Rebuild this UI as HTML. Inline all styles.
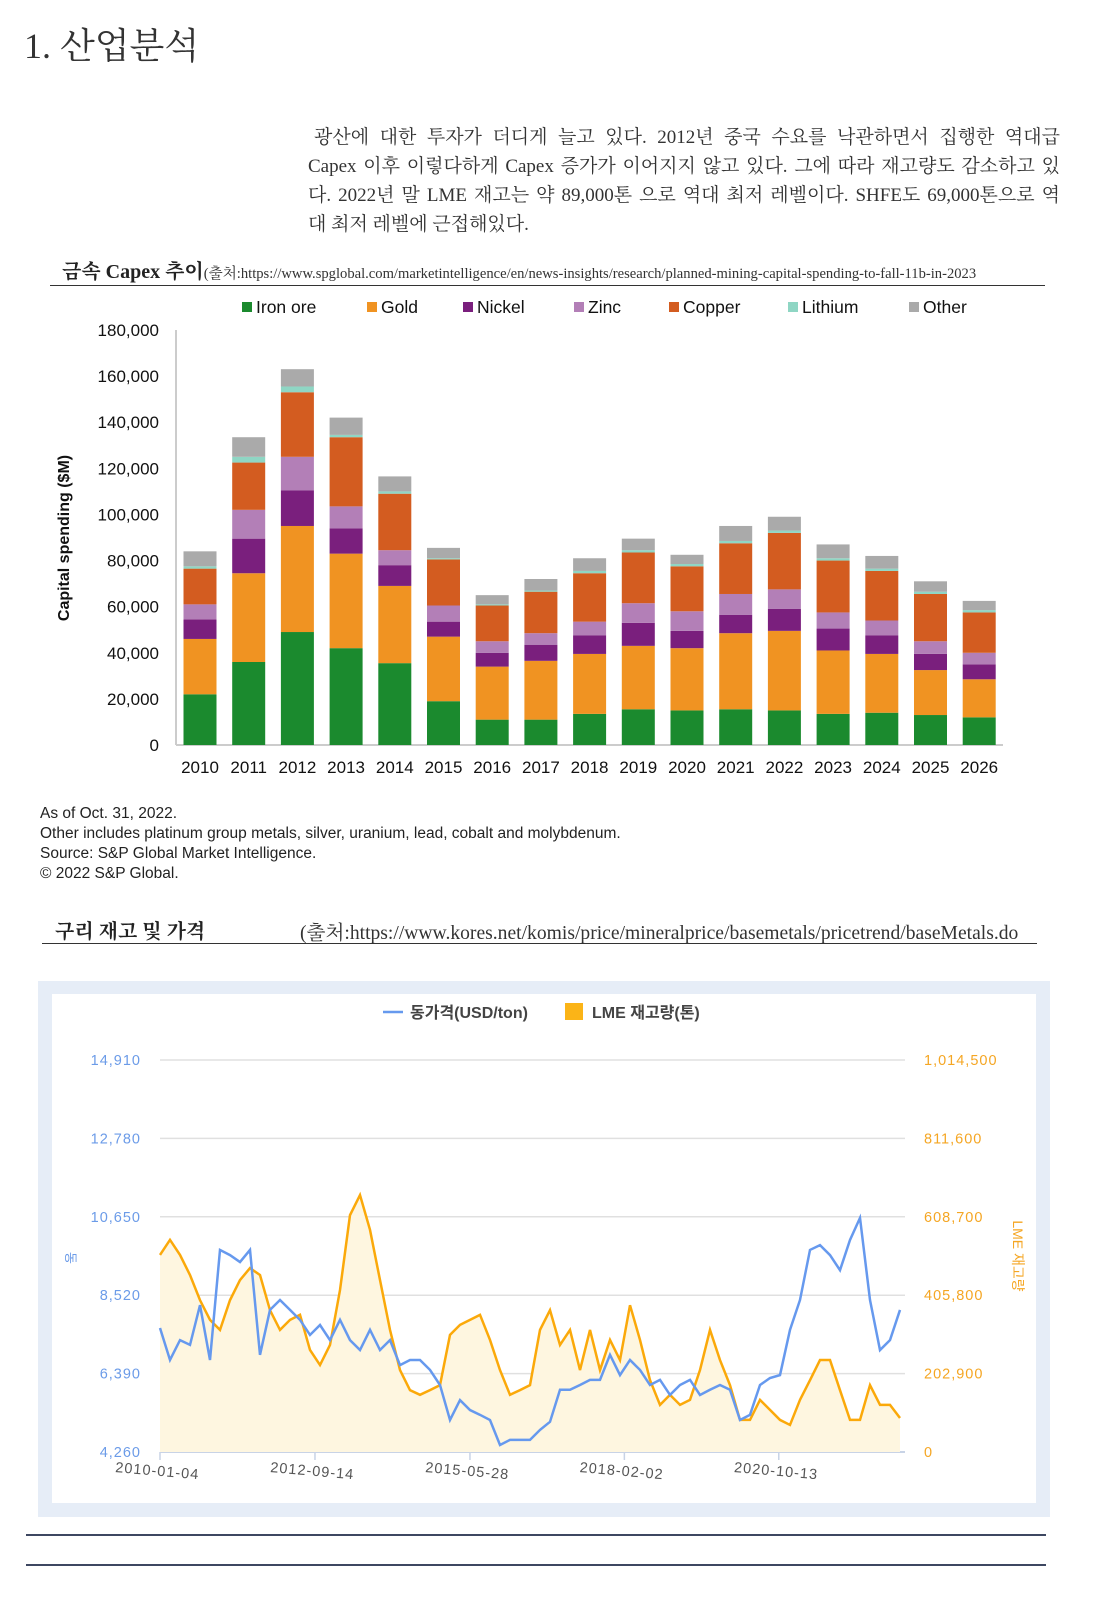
<!DOCTYPE html>
<html><head><meta charset="utf-8">
<style>
body{margin:0;background:#fff;width:1113px;height:1622px;position:relative;overflow:hidden;font-family:"Liberation Serif","Noto Serif CJK SC",serif;color:#222}
.abs{position:absolute}
.pl{text-align:justify;text-align-last:justify;white-space:nowrap;height:29px}
</style></head><body>
<div class="abs" style="left:24px;top:18px;font-size:36px;font-family:'Liberation Serif','Noto Serif CJK SC',serif;color:#333">1. 산업분석</div>
<div class="abs" style="left:308px;top:123px;width:752px;font-size:19px;line-height:29px;color:#333">
<div class="pl" style="padding-left:6px">광산에 대한 투자가 더디게 늘고 있다. 2012년 중국 수요를 낙관하면서 집행한 역대급</div>
<div class="pl">Capex 이후 이렇다하게 Capex 증가가 이어지지 않고 있다. 그에 따라 재고량도 감소하고 있</div>
<div class="pl">다. 2022년 말 LME 재고는 약 89,000톤 으로 역대 최저 레벨이다. SHFE도 69,000톤으로 역</div>
<div style="height:29px">대 최저 레벨에 근접해있다.</div>
</div>
<div class="abs" style="left:62px;top:255px;font-size:20px;font-weight:bold;white-space:nowrap">금속 Capex 추이<span style="font-size:14.6px;font-weight:normal;color:#333">(출처:https://www.spglobal.com/marketintelligence/en/news-insights/research/planned-mining-capital-spending-to-fall-11b-in-2023</span></div>
<div class="abs" style="left:50px;top:285px;width:995px;height:1px;background:#333"></div>

<svg class="abs" style="left:0;top:290px" width="1113" height="600" id="capex"></svg>

<div class="abs" style="left:40px;top:804px;font-family:'Liberation Sans',sans-serif;font-size:15.5px;line-height:20px;color:#222">As of Oct. 31, 2022.<br>Other includes platinum group metals, silver, uranium, lead, cobalt and molybdenum.<br>Source: S&amp;P Global Market Intelligence.<br>© 2022 S&amp;P Global.</div>

<div class="abs" style="left:55px;top:915px;font-size:20px;font-weight:bold">구리 재고 및 가격</div>
<div class="abs" style="left:300px;top:916px;font-size:19.6px;color:#333;white-space:nowrap">(출처:https://www.kores.net/komis/price/mineralprice/basemetals/pricetrend/baseMetals.do</div>
<div class="abs" style="left:42px;top:943px;width:995px;height:1px;background:#333"></div>

<div class="abs" style="left:38px;top:981px;width:1012px;height:536px;background:#e6edf7"></div>
<div class="abs" style="left:52px;top:994px;width:984px;height:509px;background:#fff"></div>
<svg class="abs" style="left:0;top:990px" width="1113" height="520" id="cu"></svg>

<div class="abs" style="left:26px;top:1534px;width:1020px;height:2px;background:#3d4761"></div>
<div class="abs" style="left:26px;top:1564px;width:1020px;height:2px;background:#3d4761"></div>

<script>
const years=['2010','2011','2012','2013','2014','2015','2016','2017','2018','2019','2020','2021','2022','2023','2024','2025','2026'];
const seriesNames=['Iron ore','Gold','Nickel','Zinc','Copper','Lithium','Other'];
const ironOre=[22,36,49,42,35.5,19,11,11,13.5,15.5,15,15.5,15,13.5,14,13,12];
const gold=[24,38.5,46,41,33.5,28,23,25.5,26,27.5,27,33,34.5,27.5,25.5,19.5,16.5];
const nickel=[8.5,15,15.5,11,9,6.5,6,7,8,10,7.5,8,9.5,9.5,8,7,6.5];
const zinc=[6.5,12.5,14.5,9.5,6.5,7,5,5,6,8.5,8.5,9,8.5,7,6.5,5.5,5];
const copper=[15.5,20.5,28,30,24.5,20,15.5,18,21,22,19.5,22,24.5,22.5,21.5,20.5,17.5];
const lithium=[1,2.5,2.5,1,1,0.5,0.5,0.5,1,1,1,1,1,1,1,1,1];
const other=[6.5,8.5,7.5,7.5,6.5,4.5,4,5,5.5,5,4,6.5,6,6,5.5,4.5,4];
const yTicks=[0,20000,40000,60000,80000,100000,120000,140000,160000,180000];
const colors=['#1b8a2e','#f09322','#7a1f7d','#b37fb7','#d35c20','#8fd6c4','#aaaaaa'];

const NS='http://www.w3.org/2000/svg';
function mk(parent,tag,attrs,text){const e=document.createElementNS(NS,tag);for(const k in attrs)e.setAttribute(k,attrs[k]);if(text!==undefined)e.textContent=text;parent.appendChild(e);return e;}

(function(){
const svg=document.getElementById('capex');const off=290;
const y=v=>745-off-v/180000*415;
const x=i=>200+i*48.7;
mk(svg,'line',{x1:176,y1:y(0),x2:1003,y2:y(0),stroke:'#bbb','stroke-width':1.5});
mk(svg,'line',{x1:176,y1:y(180000),x2:176,y2:y(0),stroke:'#ccc','stroke-width':2});
yTicks.forEach(t=>{const tx=mk(svg,'text',{x:159,y:y(t)+6,'text-anchor':'end','font-family':'Liberation Sans,sans-serif','font-size':17,fill:'#111'},t.toLocaleString('en-US'));
});
const yl=mk(svg,'text',{transform:'translate(69,'+(538-off)+') rotate(-90)','text-anchor':'middle','font-family':'Liberation Sans,sans-serif','font-size':16,'font-weight':'bold',fill:'#111'},'Capital spending ($M)');

const data=[ironOre,gold,nickel,zinc,copper,lithium,other];
years.forEach((yr,i)=>{let cum=0;
data.forEach((s,k)=>{const v=s[i]*1000;const r=mk(svg,'rect',{x:x(i)-16.5,y:y(cum+v),width:33,height:y(cum)-y(cum+v),fill:colors[k]});
cum+=v;});
const t=mk(svg,'text',{x:x(i),y:767+6-off,'text-anchor':'middle','font-family':'Liberation Sans,sans-serif','font-size':17,fill:'#111'},yr);
});
const lx=[242,367,463,574,669,788,909];
seriesNames.forEach((n,k)=>{const g=mk(svg,'g',{});
mk(g,'rect',{x:lx[k],y:302-off,width:10,height:10,fill:colors[k]});
mk(g,'text',{x:lx[k]+14,y:313-off,'font-family':'Liberation Sans,sans-serif','font-size':17.5,fill:'#111'},n);});
})();

const priceVals=[7630,6760,7300,7170,8250,6760,9750,9610,9420,9750,6900,8120,8390,8120,7850,7440,7710,7300,7850,7300,7030,7580,7030,7300,6620,6760,6760,6490,6080,5130,5670,5400,5270,5130,4450,4590,4590,4590,4860,5080,5950,5950,6080,6220,6220,6900,6350,6760,6490,6080,6220,5810,6080,6220,5810,5950,6080,5950,5130,5270,6080,6270,6350,7580,8390,9750,9880,9610,9200,10020,10620,8390,7030,7300,8120];
const stockK=[510,549,510,458,393,342,316,393,445,476,458,367,316,342,355,264,225,277,419,613,665,575,445,316,212,160,148,160,173,303,329,342,355,290,212,148,160,173,316,367,277,316,212,316,212,290,238,380,290,186,122,148,122,135,212,316,238,173,83,83,135,109,83,70,135,186,238,238,160,83,83,173,122,122,88];
const priceTicks=['4,260','6,390','8,520','10,650','12,780','14,910'];
const stockTicks=['0','202,900','405,800','608,700','811,600','1,014,500'];
const dateLabels=['2010-01-04','2012-09-14','2015-05-28','2018-02-02','2020-10-13'];
const dateYears=[2010.0,2012.7,2015.4,2018.09,2020.78];

(function(){
const svg=document.getElementById('cu');const off=990;
const x0=160,x1=900,yb=1452-off,yt=1060-off;
const px=i=>x0+i*(x1-x0)/(priceVals.length-1);
const py=v=>yb-(v-4260)/(14910-4260)*(yb-yt);
const sy=v=>yb-v*1000/1014500*(yb-yt);
const dx=yr=>x0+(yr-2010.0)*57.4;
for(let k=0;k<6;k++){const yy=yb-k*(yb-yt)/5;
const gl=mk(svg,'line',{x1:x0,y1:yy,x2:905,y2:yy,stroke:k==0?'#c8d3e6':'#e0e0e0','stroke-width':k==0?2:1.5});

const a=mk(svg,'text',{x:141,y:yy+5,'text-anchor':'end','font-family':'Liberation Sans,sans-serif','font-size':14.5,fill:'#6b9be8','letter-spacing':'1'},priceTicks[k]);

const b=mk(svg,'text',{x:924,y:yy+5,'font-family':'Liberation Sans,sans-serif','font-size':14.5,fill:'#f5a623','letter-spacing':'1'},stockTicks[k]);
}
let d='M'+px(0)+','+yb;stockK.forEach((v,i)=>d+=' L'+px(i)+','+sy(v));d+=' L'+px(stockK.length-1)+','+yb+'Z';
const area=mk(svg,'path',{d:d,fill:'#fef6e0'});
let ds='';stockK.forEach((v,i)=>ds+=(i?' L':'M')+px(i)+','+sy(v));
const sl=mk(svg,'path',{d:ds,fill:'none',stroke:'#fba90a','stroke-width':2.5});
let dp='';priceVals.forEach((v,i)=>dp+=(i?' L':'M')+px(i)+','+py(v));
const pl=mk(svg,'path',{d:dp,fill:'none',stroke:'#6699ee','stroke-width':2.5});
dateLabels.forEach((lab,i)=>{const xx=dx(dateYears[i]);
mk(svg,'line',{x1:xx,y1:yb,x2:xx,y2:yb+8,stroke:'#c8d3e6','stroke-width':1.5});
const t=mk(svg,'text',{transform:'translate('+(xx-45)+','+(1472-off)+') rotate(5)','font-family':'Liberation Sans,sans-serif','font-size':14.5,fill:'#555','letter-spacing':'1'},lab);
});
const lt=mk(svg,'text',{transform:'translate(66,'+(1258-off)+') rotate(90)','text-anchor':'middle','font-family':'Liberation Sans,Noto Sans CJK KR,sans-serif','font-size':13,fill:'#6b9be8'},'동');

const rt=mk(svg,'text',{transform:'translate(1013,'+(1256-off)+') rotate(90)','text-anchor':'middle','font-family':'Liberation Sans,Noto Sans CJK KR,sans-serif','font-size':14,fill:'#f5a623'},'LME 재고량');

const g1=mk(svg,'g',{});
mk(g1,'line',{x1:383,y1:1012-off,x2:403,y2:1012-off,stroke:'#6699ee','stroke-width':2.5});
mk(g1,'text',{x:410,y:1018-off,'font-family':'Liberation Sans,Noto Sans CJK KR,sans-serif','font-size':16,'font-weight':'bold',fill:'#444'},'동가격(USD/ton)');
const g2=mk(svg,'g',{});
mk(g2,'rect',{x:565,y:1003-off,width:18,height:17,fill:'#fbb417'});
mk(g2,'text',{x:592,y:1018-off,'font-family':'Liberation Sans,Noto Sans CJK KR,sans-serif','font-size':16,'font-weight':'bold',fill:'#444'},'LME 재고량(톤)');
})();
</script>
</body></html>
